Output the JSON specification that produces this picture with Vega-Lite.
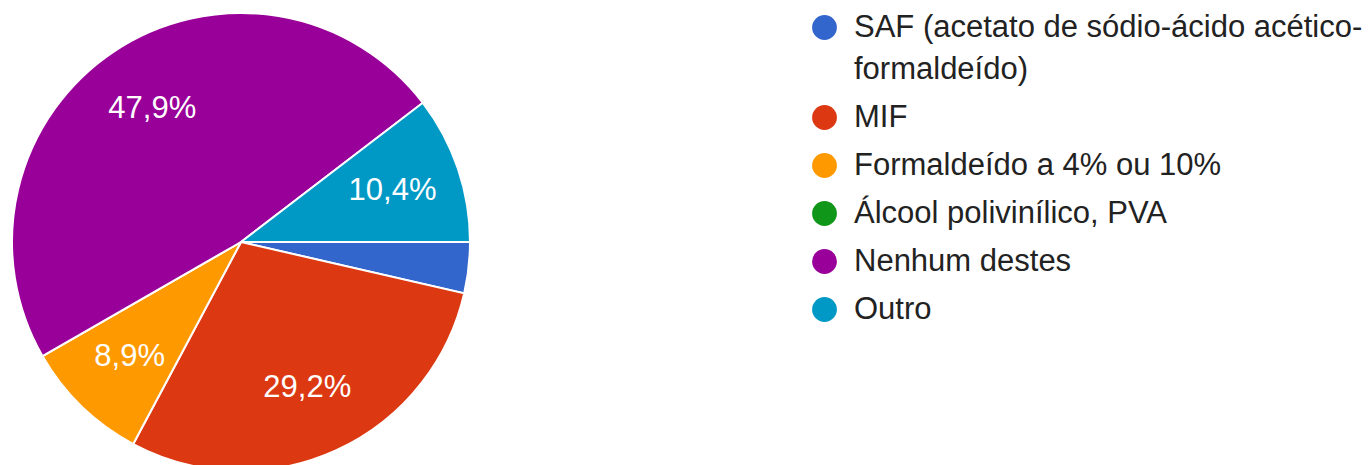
{
  "$schema": "https://vega.github.io/schema/vega-lite/v6.json",
  "autosize": "none",
  "width": 482,
  "height": 446,
  "padding": {"top": 19, "left": 0, "right": 887, "bottom": 0},
  "background": "#ffffff",
  "config": {"view": {"stroke": null}, "style": {"guide-label": {"lineHeight": 42}}},
  "data": {
    "values": [
      {"opcao": "SAF (acetato de sódio-ácido acético-formaldeído)", "pct": 3.6, "rotulo": "", "ordem": 1},
      {"opcao": "MIF", "pct": 29.2, "rotulo": "29,2%", "ordem": 2},
      {"opcao": "Formaldeído a 4% ou 10%", "pct": 8.9, "rotulo": "8,9%", "ordem": 3},
      {"opcao": "Álcool polivinílico, PVA", "pct": 0, "rotulo": "", "ordem": 4},
      {"opcao": "Nenhum destes", "pct": 47.9, "rotulo": "47,9%", "ordem": 5},
      {"opcao": "Outro", "pct": 10.4, "rotulo": "10,4%", "ordem": 6}
    ]
  },
  "encoding": {
    "theta": {"field": "pct", "type": "quantitative", "stack": true, "scale": {"range": [1.5707963, 7.8539816]}},
    "order": {"field": "ordem", "type": "quantitative"}
  },
  "layer": [
    {
      "mark": {"type": "arc", "outerRadius": 229, "stroke": "#ffffff", "strokeWidth": 2},
      "encoding": {
        "color": {
          "field": "opcao",
          "type": "nominal",
          "sort": null,
          "scale": {
            "domain": ["SAF (acetato de sódio-ácido acético-formaldeído)", "MIF", "Formaldeído a 4% ou 10%", "Álcool polivinílico, PVA", "Nenhum destes", "Outro"],
            "range": ["#3366cc", "#dc3912", "#ff9900", "#109618", "#990099", "#0099c6"]
          },
          "legend": {
            "title": null,
            "orient": "none",
            "legendX": 809,
            "legendY": -7,
            "padding": 0,
            "symbolType": "circle",
            "symbolSize": 616,
            "symbolStrokeWidth": 0,
            "symbolOpacity": 1,
            "symbolOffset": 0,
            "labelOffset": 14,
            "labelFont": "Liberation Sans",
            "labelFontSize": 31,
            "labelColor": "#222222",
            "labelLimit": 700,
            "rowPadding": 16,
            "labelExpr": "datum.label == 'SAF (acetato de sódio-ácido acético-formaldeído)' ? ['SAF (acetato de sódio-ácido acético-', 'formaldeído)'] : datum.label"
          }
        }
      }
    },
    {
      "mark": {"type": "text", "radius": 160, "font": "Liberation Sans", "fontSize": 31, "fill": "#ffffff", "align": "center", "baseline": "middle"},
      "encoding": {
        "text": {"field": "rotulo", "type": "nominal"}
      }
    }
  ]
}
